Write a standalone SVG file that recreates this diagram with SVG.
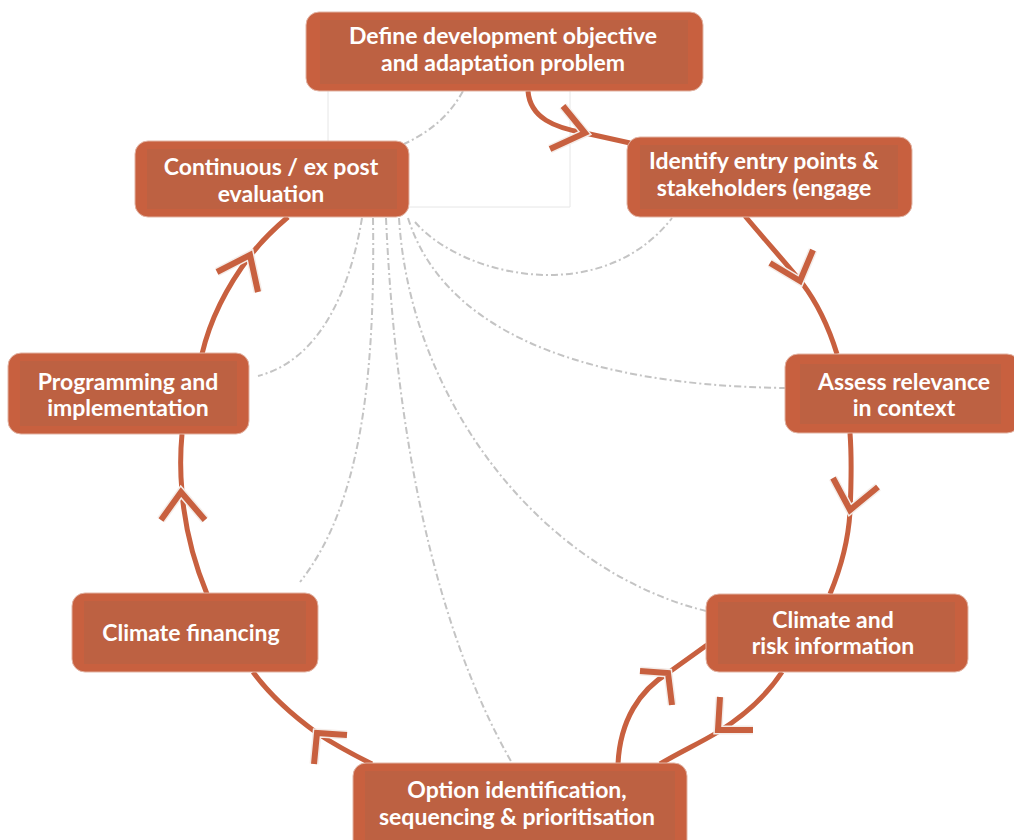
<svg xmlns="http://www.w3.org/2000/svg" width="1014" height="840" viewBox="0 0 1014 840">
<defs>
<style>
.box{fill:#C8603F;stroke:#e2b3a3;stroke-width:1}
.inner{fill:#BD6142}
.t{font-family:Lato,"Open Sans",sans-serif;font-weight:700;font-size:23px;fill:#ffffff;text-anchor:middle}
.dash{fill:none;stroke:#c4c4c4;stroke-width:2;stroke-dasharray:7 3 2 3}
.frame{fill:none;stroke:#e6e6e6;stroke-width:1}
.halo{fill:none;stroke:#f4ece8;stroke-width:9;stroke-linecap:butt;stroke-linejoin:miter}
.conn{fill:none;stroke:#C8603F;stroke-width:5;stroke-linecap:butt;stroke-linejoin:miter}
.chev{fill:none;stroke:#C8603F;stroke-width:6;stroke-linecap:butt;stroke-linejoin:miter}
</style>
</defs>
<rect width="1014" height="840" fill="#ffffff"/>
<g id="frame">
<path class="frame" d="M328,91 V150 M570,91 V207 H408"/>
</g>
<g id="dashed-links">
<path class="dash" d="M463,91 C450,115 430,132 404,144"/>
<path class="dash" d="M362,218 C350,290 320,360 258,376"/>
<path class="dash" d="M373,218 C375,360 365,500 300,582"/>
<path class="dash" d="M386,218 C395,420 430,620 512,763"/>
<path class="dash" d="M399,218 C410,400 540,570 706,611"/>
<path class="dash" d="M408,218 C440,320 560,385 785,388"/>
<path class="dash" d="M415,222 C460,275 600,310 672,218"/>
</g>
<g id="connectors">
<path class="conn" d="M528,91 C530,118 555,128 585,133 L630,143"/>
<path class="halo" d="M563,106 L585,133 L550,149"/>
<path class="chev" d="M563,106 L585,133 L550,149"/>
<path class="conn" d="M745,216 C765,240 785,262 802,283 C815,300 828,325 837,354"/>
<path class="halo" d="M770,263 L800,281 L813,250"/>
<path class="chev" d="M770,263 L800,281 L813,250"/>
<path class="conn" d="M850,433 C852,460 851,490 850,512 C848,545 840,570 830,594"/>
<path class="halo" d="M833,478 L850,510 L878,487"/>
<path class="chev" d="M833,478 L850,510 L878,487"/>
<path class="conn" d="M782,672 C765,698 742,717 718,732 C700,743 680,752 660,764"/>
<path class="halo" d="M720,697 L718,730 L753,730"/>
<path class="chev" d="M720,697 L718,730 L753,730"/>
<path class="conn" d="M618,764 C620,720 640,690 668,673 L707,645"/>
<path class="halo" d="M640,671 L668,673 L672,705"/>
<path class="chev" d="M640,671 L668,673 L672,705"/>
<path class="conn" d="M372,764 C352,754 335,745 317,733 C292,715 270,695 253,672"/>
<path class="halo" d="M347,735 L317,733 L314,764"/>
<path class="chev" d="M347,735 L317,733 L314,764"/>
<path class="conn" d="M207,594 C195,565 185,530 182,492 C180,470 180,455 182,434"/>
<path class="halo" d="M161,520 L181,492 L205,520"/>
<path class="chev" d="M161,520 L181,492 L205,520"/>
<path class="conn" d="M202,354 C210,320 228,285 250,256 C262,240 275,228 288,217"/>
<path class="halo" d="M217,272 L250,255 L258,292"/>
<path class="chev" d="M217,272 L250,255 L258,292"/>
</g>
<g id="node-define">
<rect class="box" x="306" y="12" width="397" height="79" rx="13"/>
<rect class="inner" x="320" y="20" width="368" height="64"/>
<text class="t" x="503" y="44">Define development objective</text>
<text class="t" x="503" y="71">and adaptation problem</text>
</g>
<g id="node-identify">
<rect class="box" x="627" y="137" width="285" height="80" rx="13"/>
<rect class="inner" x="640" y="145" width="258" height="64"/>
<text class="t" x="764" y="169">Identify entry points &amp;</text>
<text class="t" x="764" y="196">stakeholders (engage</text>
</g>
<g id="node-assess">
<rect class="box" x="785" y="354" width="235" height="79" rx="13"/>
<rect class="inner" x="800" y="364" width="201" height="60"/>
<text class="t" x="904" y="390">Assess relevance</text>
<text class="t" x="904" y="416">in context</text>
</g>
<g id="node-climate-risk">
<rect class="box" x="706" y="594" width="262" height="78" rx="13"/>
<rect class="inner" x="718" y="602" width="237" height="62"/>
<text class="t" x="833" y="628">Climate and</text>
<text class="t" x="833" y="654">risk information</text>
</g>
<g id="node-option">
<rect class="box" x="353" y="763" width="334" height="90" rx="13"/>
<rect class="inner" x="365" y="771" width="310" height="69"/>
<text class="t" x="517" y="798">Option identification,</text>
<text class="t" x="517" y="825">sequencing &amp; prioritisation</text>
</g>
<g id="node-financing">
<rect class="box" x="72" y="593" width="246" height="79" rx="13"/>
<rect class="inner" x="84" y="601" width="222" height="63"/>
<text class="t" x="191" y="641">Climate financing</text>
</g>
<g id="node-programming">
<rect class="box" x="8" y="353" width="241" height="81" rx="13"/>
<rect class="inner" x="20" y="361" width="217" height="65"/>
<text class="t" x="128" y="390">Programming and</text>
<text class="t" x="128" y="416">implementation</text>
</g>
<g id="node-evaluation">
<rect class="box" x="135" y="141" width="274" height="76" rx="13"/>
<rect class="inner" x="147" y="149" width="250" height="60"/>
<text class="t" x="271" y="175">Continuous / ex post</text>
<text class="t" x="271" y="202">evaluation</text>
</g>
</svg>
